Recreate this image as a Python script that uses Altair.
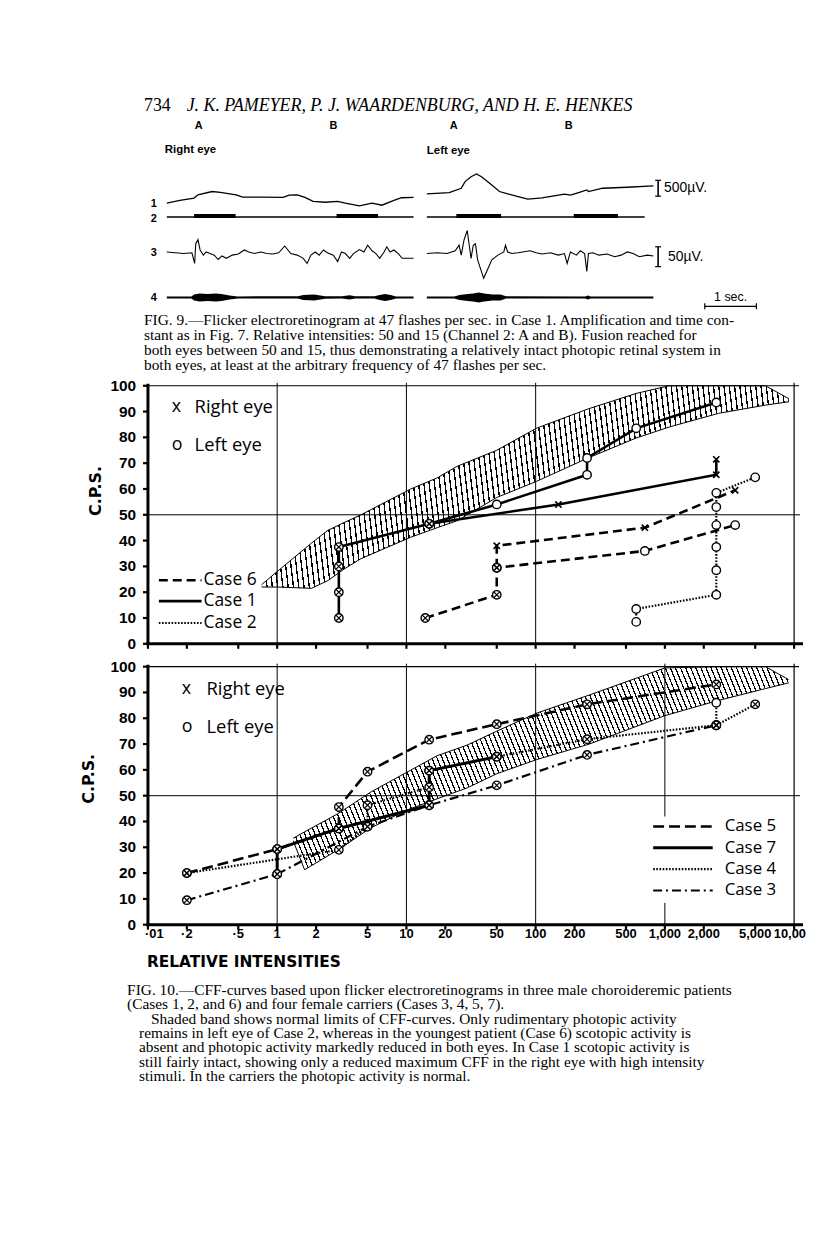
import altair as alt
import pandas as pd

# ======================= DATA =======================
# ---- Fig. 9: flicker ERG traces; time in s, amplitude in µV ----
R1_T = [0, .24, .5, .57, .83, .98, 1.27, 1.39, 1.72, 2.13, 2.24, 2.39, 2.53, 2.68, 2.9, 3.13, 3.27, 3.53, 3.76, 3.94, 4.16, 4.3, 4.52]
R1_V = [0, 90, 170, 280, 390, 360, 280, 200, 200, 190, 270, 280, 190, 60, 30, 60, 0, -90, 0, -70, 90, 180, 190]
L1_T = [0, .41, .63, .70, .81, .91, 1.0, 1.15, 1.33, 1.48, 1.67, 1.85, 2.11, 2.33, 2.52, 2.63, 2.78, 2.93, 2.96, 3.22, 3.67, 4.15]
L1_V = [311, 355, 500, 722, 888, 977, 888, 666, 389, 311, 222, 133, 178, 244, 300, 266, 355, 444, 389, 500, 533, 577]

R3_T = [0, .16, .31, .46, .51, .53, .57, .61, .67, .72, .79, .87, .94, 1.01, 1.09, 1.2, 1.31, 1.42, 1.5, 1.61, 1.72, 1.83,
        1.94, 2.05, 2.16, 2.27, 2.39, 2.5, 2.57, 2.64, 2.72, 2.79, 2.87, 2.94, 3.05, 3.13, 3.2, 3.27, 3.35, 3.42, 3.53,
        3.61, 3.68, 3.76, 3.83, 3.9, 3.98, 4.03, 4.09, 4.16, 4.24, 4.31, 4.42, 4.52]
R3_V = [2, 0, -2, 0, -27, 23, 33, 7, -6, 2, -2, -6, -17, -8, -14, -6, -3, 7, 2, -2, 2, -2,
        -3, 0, 17, -2, -6, -14, -27, -6, 2, -6, 7, 0, -6, -22, 2, -2, -14, -2, 8,
        2, 19, 5, -2, -14, 2, 15, 2, 7, -2, -14, -14, -14]
L3_T = [0, .19, .37, .52, .59, .63, .68, .74, .78, .81, .85, .89, .93, .99, 1.04, 1.11, 1.19, 1.3, 1.41, 1.44, 1.48,
        1.56, 1.67, 1.89, 2.0, 2.11, 2.26, 2.41, 2.52, 2.57, 2.63, 2.74, 2.81, 2.89, 2.93, 2.96, 3.04, 3.15, 3.3,
        3.44, 3.56, 3.67, 3.78, 3.89, 4.04, 4.15]
L3_V = [-2, 0, -2, 5, 19, -6, 32, 56, 15, -14, 19, 23, -18, -43, -64, -43, -18, -6, 2, 19, 2,
        -2, 0, 5, 0, -3, 0, -6, -2, -27, 2, -6, 5, -2, -47, -2, 0, -6, -3,
        -10, -6, 2, -2, -10, -6, -8]

# channel 4: half thickness of the trace
R4_T = [0, .45, .5, .6, .75, .9, 1.0, 1.15, 1.3, 2.4, 2.5, 2.7, 2.9, 3.2, 3.35, 3.45, 3.8, 3.9, 4.0, 4.1, 4.2, 4.52]
R4_H = [1, 1, 3, 4, 3.5, 4, 3.5, 2, 1, 1.2, 2.5, 3, 1.3, 1.2, 2.2, 1.2, 1.1, 2.5, 3.5, 2.5, 1, 1]
L4_T = [0, .5, .6, .75, .85, .95, 1.05, 1.2, 1.35, 1.45, 2.9, 2.95, 3.0, 4.15]
L4_H = [1, 1, 2.5, 3.5, 4, 5, 4, 3, 3, 1.2, 1, 2, 1, 1]

# channel 2: stimulus markers (start, end in s)
R2_ON = [.5, 3.11]
R2_OFF = [1.26, 3.87]
L2_ON = [.54, 2.69]
L2_OFF = [1.36, 3.5]
R2_END = 4.52
L2_END = 3.99

# ---- Fig. 10 upper panel: patients (Cases 6, 1, 2) ----
# mark: b = both eyes, R = right eye, L = left eye
P1_CASE = ["1"] * 10 + ["1"] * 4 + ["6"] * 5 + ["6"] * 4 + ["2"] * 9
P1_SEG = ["a"] * 10 + ["b"] * 4 + ["a"] * 5 + ["b"] * 4 + ["a"] * 9
P1_X = [3, 3, 3, 3, 15, 50, 250, 250, 600, 2500,
        15, 150, 2500, 2500,
        14, 50, 50, 700, 3500,
        50, 50, 700, 3500,
        600, 600, 2500, 2500, 2500, 2500, 2500, 2500, 5000]
P1_Y = [10, 20, 30, 37.5, 46.5, 54, 65.5, 72, 83.5, 93.5,
        46.5, 54, 65.5, 71.5,
        10, 19, 29.5, 36, 46,
        29.5, 38, 45, 59.5,
        8.5, 13.5, 19, 28.5, 37.5, 46, 53, 58.5, 64.5]
P1_MARK = ["b", "b", "b", "b", "b", "L", "L", "L", "L", "L",
           "b", "R", "R", "R",
           "b", "b", "b", "L", "L",
           "b", "R", "R", "R",
           "L", "L", "L", "L", "L", "L", "L", "L", "L"]

# normal band (upper panel)
B1_X = [0.76, 1.0, 1.84, 2.47, 3.3, 4.45, 10.8, 17.3, 24.7, 50, 102, 254, 597, 1079, 2600, 6000, 9100]
B1_HI = [23, 28, 39, 44, 47, 50, 60, 64.3, 68.8, 75, 83.6, 91, 97, 100, 100, 100, 95]
B1_LO = [22, 22, 21.5, 24.5, 29, 33, 41.3, 45, 47.7, 56.7, 63, 72, 79.7, 84, 89.3, 92.5, 93.8]

# ---- Fig. 10 lower panel: carriers (Cases 5, 7, 4, 3) ----
P2_CASE = ["5"] * 9 + ["7"] * 6 + ["4"] * 10 + ["4"] * 2 + ["3"] * 7
P2_SEG = ["a"] * 9 + ["a"] * 6 + ["a"] * 10 + ["b"] * 2 + ["a"] * 7
P2_X = [0.2, 1, 3, 3, 5, 15, 50, 250, 2500,
        1, 1, 3, 15, 15, 50,
        0.2, 3, 5, 5, 15, 15, 50, 250, 2500, 5000,
        2500, 2500,
        0.2, 1, 5, 15, 50, 250, 2500]
P2_Y = [20, 29.3, 37.3, 45.6, 59.3, 71.7, 77.7, 85.4, 93.1,
        19.6, 29.3, 37.3, 46.3, 59.7, 65.1,
        20, 29, 38, 46.3, 53.3, 59.7, 65.1, 71.9, 77.3, 85.4,
        77.3, 86,
        9.5, 19.6, 38, 46.3, 54, 65.8, 77.3]
P2_MARK = ["b"] * 25 + ["b", "L"] + ["b"] * 7

B2_X = [1.33, 1.63, 2.95, 5.3, 9.6, 17.3, 29.5, 50, 102, 260, 1000, 2500, 6000, 9060]
B2_HI = [33.5, 36, 43, 51.4, 58.5, 65.5, 69.6, 75, 82, 89, 99.5, 100, 100, 95]
B2_LO = [32.5, 21.3, 29, 37.5, 44, 48.8, 53, 58.5, 64, 70, 81, 86.7, 91.5, 93.7]

# ---- axes ----
X_TICKS = [0.1, 0.2, 0.5, 1, 2, 5, 10, 20, 50, 100, 200, 500, 1000, 2000, 5000, 10000]
X_LABELS = ["·01", "·2", "·5", "1", "2", "5", "10", "20", "50", "100", "200", "500",
            "1,000", "2,000", "5,000", "10,00"]
Y_TICKS = [0, 10, 20, 30, 40, 50, 60, 70, 80, 90, 100]
GRID_X = [1, 10, 100]

# ---- text ----
HEADER_NUM = "734"
HEADER = "J. K. PAMEYER, P. J. WAARDENBURG, AND H. E. HENKES"
FIG9 = ["FIG. 9.—Flicker electroretinogram at 47 flashes per sec. in Case 1. Amplification and time con-",
        "stant as in Fig. 7.  Relative intensities: 50 and 15 (Channel 2: A and B).  Fusion reached for",
        "both eyes between 50 and 15, thus demonstrating a relatively intact photopic retinal system in",
        "both eyes, at least at the arbitrary frequency of 47 flashes per sec."]
FIG10 = ["FIG. 10.—CFF-curves based upon flicker electroretinograms in three male choroideremic patients",
         "(Cases 1, 2, and 6) and four female carriers (Cases 3, 4, 5, 7).",
         "Shaded band shows normal limits of CFF-curves.  Only rudimentary photopic activity",
         "remains in left eye of Case 2, whereas in the youngest patient (Case 6) scotopic activity is",
         "absent and photopic activity markedly reduced in both eyes.  In Case 1 scotopic activity is",
         "still fairly intact, showing only a reduced maximum CFF in the right eye with high intensity",
         "stimuli.   In the carriers the photopic activity is normal."]

# ======================= LAYOUT / STYLE =======================
M = 8  # page margin


def px(v):
    return v - M


def py(v):
    return v - M


SERIF = "Liberation Serif"
SANS = "Open Sans"
LSANS = "Liberation Sans"
BOLD = "DejaVu Sans"
XPATH = "M -0.7 -0.7 L 0.7 0.7 M -0.7 0.7 L 0.7 -0.7"
CLEAR = "rgba(255,255,255,0)"
CAP = 15.5  # caption font size

layers = []
ONE = pd.DataFrame({"a": [0]})


def text(s, x, y, size, font=SERIF, weight="normal", style="normal", align="left",
         baseline="middle", angle=None):
    kw = dict(fontSize=size, font=font, fontWeight=weight, fontStyle=style, align=align,
              baseline=baseline, color="black")
    if angle is not None:
        kw["angle"] = angle
    layers.append(alt.Chart(pd.DataFrame({"t": [s]})).mark_text(**kw).encode(
        text="t:N", x=alt.value(px(x)), y=alt.value(py(y))))


def rule(x, y, x2=None, y2=None, w=1.0, dash=None):
    enc = dict(x=alt.value(px(x)), y=alt.value(py(y)))
    if x2 is not None:
        enc["x2"] = alt.value(px(x2))
    if y2 is not None:
        enc["y2"] = alt.value(py(y2))
    kw = dict(strokeWidth=w, color="black")
    if dash:
        kw["strokeDash"] = dash
    layers.append(alt.Chart(ONE).mark_rule(**kw).encode(**enc))


def hatch(n, frac, x1, y1, x2, y2):
    stops = []
    for k in range(n):
        a = k / n
        m1 = (k + 0.5 - frac / 2) / n
        m2 = (k + 0.5 + frac / 2) / n
        c = (k + 1) / n
        for col, off in [(CLEAR, a), (CLEAR, m1), ("black", m1), ("black", m2), (CLEAR, m2), (CLEAR, c)]:
            stops.append(alt.GradientStop(color=col, offset=round(off, 6)))
    return alt.LinearGradient(gradient="linear", stops=stops, x1=x1, y1=y1, x2=x2, y2=y2)


# ======================= HEADER & FIG. 9 =======================
text(HEADER_NUM, 145, 107, 18, baseline="alphabetic")
text(HEADER, 188, 107, 18, style="italic", baseline="alphabetic")
for s, x in zip(["A", "B", "A", "B"], [200, 336, 457, 573]):
    text(s, x, 122, 11, font=LSANS, weight="bold", align="center")
text("Right eye", 166, 146, 11.5, font=LSANS, weight="bold")
text("Left eye", 430, 148, 11.5, font=LSANS, weight="bold")
for s, y in zip(["1", "2", "3", "4"], [201, 216, 250, 296]):
    text(s, 155, y, 11, font=LSANS, weight="bold", align="center")

TR = alt.Scale(domain=[0, 1], range=[px(168), px(223)], nice=False, zero=False)
TL = alt.Scale(domain=[0, 1], range=[px(430), px(485)], nice=False, zero=False)
Y1 = alt.Scale(domain=[0, 1000], range=[py(200), py(170)], nice=False, zero=False)
Y3 = alt.Scale(domain=[0, 50], range=[py(250), py(230)], nice=False, zero=False)
Y4 = alt.Scale(domain=[0, 1], range=[py(295), py(294)], nice=False, zero=False)

for T, V, S in [(R1_T, R1_V, TR), (L1_T, L1_V, TL)]:
    layers.append(alt.Chart(pd.DataFrame({"t": T, "v": V})).mark_line(
        color="black", strokeWidth=1.3).encode(
        x=alt.X("t:Q", scale=S, axis=None), y=alt.Y("v:Q", scale=Y1, axis=None)))
for T, V, S in [(R3_T, R3_V, TR), (L3_T, L3_V, TL)]:
    layers.append(alt.Chart(pd.DataFrame({"t": T, "v": V})).mark_line(
        color="black", strokeWidth=1.1).encode(
        x=alt.X("t:Q", scale=S, axis=None), y=alt.Y("v:Q", scale=Y3, axis=None)))
for T, H, S in [(R4_T, R4_H, TR), (L4_T, L4_H, TL)]:
    layers.append(alt.Chart(pd.DataFrame({"t": T, "h": H})).transform_calculate(
        lo="-datum.h").mark_area(color="black", opacity=1).encode(
        x=alt.X("t:Q", scale=S, axis=None), y=alt.Y("lo:Q", scale=Y4, axis=None),
        y2="h:Q"))
for ON, OFF, END, S in [(R2_ON, R2_OFF, R2_END, TR), (L2_ON, L2_OFF, L2_END, TL)]:
    layers.append(alt.Chart(pd.DataFrame({"s": [0], "e": [END]})).mark_rule(
        color="black", strokeWidth=1.3).encode(
        x=alt.X("s:Q", scale=S, axis=None), x2="e:Q", y=alt.value(py(214))))
    layers.append(alt.Chart(pd.DataFrame({"s": ON, "e": OFF})).mark_rule(
        color="black", strokeWidth=4).encode(
        x=alt.X("s:Q", scale=S, axis=None), x2="e:Q", y=alt.value(py(213))))

# calibration bars
rule(663, 177, y2=193, w=1.6)
rule(660, 177, x2=666, w=1.2)
rule(660, 193, x2=666, w=1.2)
text("500µV.", 669, 185, 14, font=LSANS)
rule(663, 244, y2=264, w=1.6)
rule(660, 244, x2=666, w=1.2)
rule(660, 264, x2=666, w=1.2)
text("50µV.", 673, 254, 14, font=LSANS)
rule(710, 304, x2=762, w=1.3)
rule(710, 301, y2=307, w=1.2)
rule(762, 301, y2=307, w=1.2)
text("1 sec.", 736, 295, 12.5, font=LSANS, align="center")

for i, s in enumerate(FIG9):
    text(s, 145, 318 + i * 15, CAP)

# ======================= FIG. 10 PANELS =======================
XS = alt.Scale(type="log", domain=[0.1, 10000], range=[px(149), px(800)], nice=False)


def ys(top, bot):
    return alt.Scale(domain=[0, 100], range=[py(bot), py(top)], nice=False, zero=False)


def panel(top, bot, bx, blo, bhi, grad, cases, xs_, ys_, marks, styles, show_labels, broken):
    Y = ys(top, bot)
    # grid
    layers.append(alt.Chart(pd.DataFrame({"v": GRID_X})).mark_rule(color="black", strokeWidth=1).encode(
        x=alt.X("v:Q", scale=XS, axis=None), y=alt.value(py(top - 3)), y2=alt.value(py(bot))))
    for a, b in broken:
        layers.append(alt.Chart(pd.DataFrame({"v": [1000]})).mark_rule(color="black", strokeWidth=1).encode(
            x=alt.X("v:Q", scale=XS, axis=None), y=alt.value(py(a)), y2=alt.value(py(b))))
    layers.append(alt.Chart(pd.DataFrame({"v": [50]})).mark_rule(color="black", strokeWidth=1).encode(
        y=alt.Y("v:Q", scale=Y, axis=None), x=alt.value(px(149)), x2=alt.value(px(806))))
    # frame
    rule(149, top, x2=805, w=1.2)
    rule(800, top - 3, y2=bot, w=1.2)
    rule(149, top - 2, y2=bot + 1, w=3)
    rule(147, bot, x2=809, w=3)
    # ticks
    ydf = pd.DataFrame({"v": Y_TICKS, "lab": [str(v) for v in Y_TICKS]})
    layers.append(alt.Chart(ydf).mark_rule(color="black", strokeWidth=2.2).encode(
        y=alt.Y("v:Q", scale=Y, axis=None), x=alt.value(px(144)), x2=alt.value(px(149))))
    layers.append(alt.Chart(ydf).mark_text(font=LSANS, fontWeight="bold", fontSize=15.5, align="right",
                                           baseline="middle", color="black").encode(
        y=alt.Y("v:Q", scale=Y, axis=None), x=alt.value(px(137)), text="lab:N"))
    xdf = pd.DataFrame({"v": X_TICKS, "lab": X_LABELS})
    layers.append(alt.Chart(xdf).mark_rule(color="black", strokeWidth=2.2).encode(
        x=alt.X("v:Q", scale=XS, axis=None), y=alt.value(py(bot)), y2=alt.value(py(bot + 5))))
    if show_labels:
        n = len(xdf)
        for part, align, dx in [(xdf.iloc[:1], "left", -3), (xdf.iloc[1:n - 1], "center", 0),
                                (xdf.iloc[n - 1:], "right", 12)]:
            layers.append(alt.Chart(part).mark_text(font=LSANS, fontWeight="bold", fontSize=13,
                                                    align=align, dx=dx, baseline="top",
                                                    color="black").encode(
                x=alt.X("v:Q", scale=XS, axis=None), y=alt.value(py(bot + 3)), text="lab:N"))
    # normal band (hatched)
    bdf = pd.DataFrame({"x": bx, "lo": blo, "hi": bhi})
    layers.append(alt.Chart(bdf).mark_area(fill=grad, opacity=1, strokeWidth=0).encode(
        x=alt.X("x:Q", scale=XS, axis=None), y=alt.Y("lo:Q", scale=Y, axis=None), y2="hi:Q"))
    for f in ["lo", "hi"]:
        layers.append(alt.Chart(bdf).mark_line(color="black", strokeWidth=1).encode(
            x=alt.X("x:Q", scale=XS, axis=None), y=alt.Y(f + ":Q", scale=Y, axis=None)))
    # curves
    df = pd.DataFrame({"case": cases[0], "seg": cases[1], "x": xs_, "y": ys_, "mark": marks})
    df["ord"] = range(len(df))
    for c, (dash, w) in styles.items():
        kw = dict(color="black", strokeWidth=w)
        if dash:
            kw["strokeDash"] = dash
        layers.append(alt.Chart(df[df["case"] == c]).mark_line(**kw).encode(
            x=alt.X("x:Q", scale=XS, axis=None), y=alt.Y("y:Q", scale=Y, axis=None),
            detail="seg:N", order="ord:Q"))
    circ = df[df["mark"].isin(["b", "L"])]
    layers.append(alt.Chart(circ).mark_point(shape="circle", filled=True, fill="white", stroke="black",
                                             strokeWidth=1.4, size=72, opacity=1).encode(
        x=alt.X("x:Q", scale=XS, axis=None), y=alt.Y("y:Q", scale=Y, axis=None)))
    both = df[df["mark"] == "b"]
    layers.append(alt.Chart(both).mark_point(shape=XPATH, filled=False, stroke="black",
                                             strokeWidth=1.2, size=72, opacity=1).encode(
        x=alt.X("x:Q", scale=XS, axis=None), y=alt.Y("y:Q", scale=Y, axis=None)))
    right = df[df["mark"] == "R"]
    if len(right):
        layers.append(alt.Chart(right).mark_point(shape=XPATH, filled=False, stroke="black",
                                                  strokeWidth=1.6, size=80, opacity=1).encode(
            x=alt.X("x:Q", scale=XS, axis=None), y=alt.Y("y:Q", scale=Y, axis=None)))


# upper panel
panel(384, 644, B1_X, B1_LO, B1_HI, hatch(106, 0.26, -0.06, 0, 1, -0.048),
      (P1_CASE, P1_SEG), P1_X, P1_Y, P1_MARK,
      {"6": ([9, 5], 2.6), "1": (None, 2.6), "2": ([1.6, 1.6], 2.2)}, False, [])
text("x", 173, 405, 18, font=SANS)
text("Right eye", 196, 405, 18.5, font=SANS)
text("o", 173, 444, 18, font=SANS)
text("Left eye", 196, 444, 18.5, font=SANS)
for (lab, dash, w), y in zip([("Case 6", [9, 5], 2.6), ("Case 1", None, 2.6), ("Case 2", [1.6, 1.6], 2.2)],
                             [580, 601, 623]):
    rule(160, y, x2=203, w=w, dash=dash)
    text(lab, 205, y, 17.5, font=SANS)
text("C.P.S.", 97, 490, 16, font=BOLD, weight="bold", align="center", angle=270)

# lower panel
panel(667, 927, B2_X, B2_LO, B2_HI, hatch(120, 0.26, -0.2, 0, 1, -0.198),
      (P2_CASE, P2_SEG), P2_X, P2_Y, P2_MARK,
      {"5": ([11, 5], 2.6), "7": (None, 3), "4": ([1.6, 1.6], 2.2), "3": ([9, 4, 2, 4], 2.2)},
      True, [(664, 818), (905, 927)])
text("x", 183, 690, 18, font=SANS)
text("Right eye", 208, 690, 18.5, font=SANS)
text("o", 183, 728, 18, font=SANS)
text("Left eye", 208, 728, 18.5, font=SANS)
for (lab, dash, w), y in zip([("Case 5", [11, 5], 2.6), ("Case 7", None, 3),
                              ("Case 4", [1.6, 1.6], 2.2), ("Case 3", [9, 4, 2, 4], 2.2)],
                             [828, 849.5, 871, 892.5]):
    rule(658, y, x2=718, w=w, dash=dash)
    text(lab, 730, y, 17, font=SANS)
text("C.P.S.", 90, 780, 16, font=BOLD, weight="bold", align="center", angle=270)
text("RELATIVE  INTENSITIES", 148, 965, 15.5, font=BOLD, weight="bold")

for i, s in enumerate(FIG10):
    x = 140 if i >= 2 else 128
    if i == 2:
        x = 152
    text(s, x, 993 + i * 14.4, CAP)

chart = alt.layer(*layers).resolve_scale(x="independent", y="independent").properties(
    width=806, height=1223, padding=0, autosize="none"
).configure_view(stroke=None)

chart.save("out.html", embed_options={"renderer": "svg", "actions": False})
